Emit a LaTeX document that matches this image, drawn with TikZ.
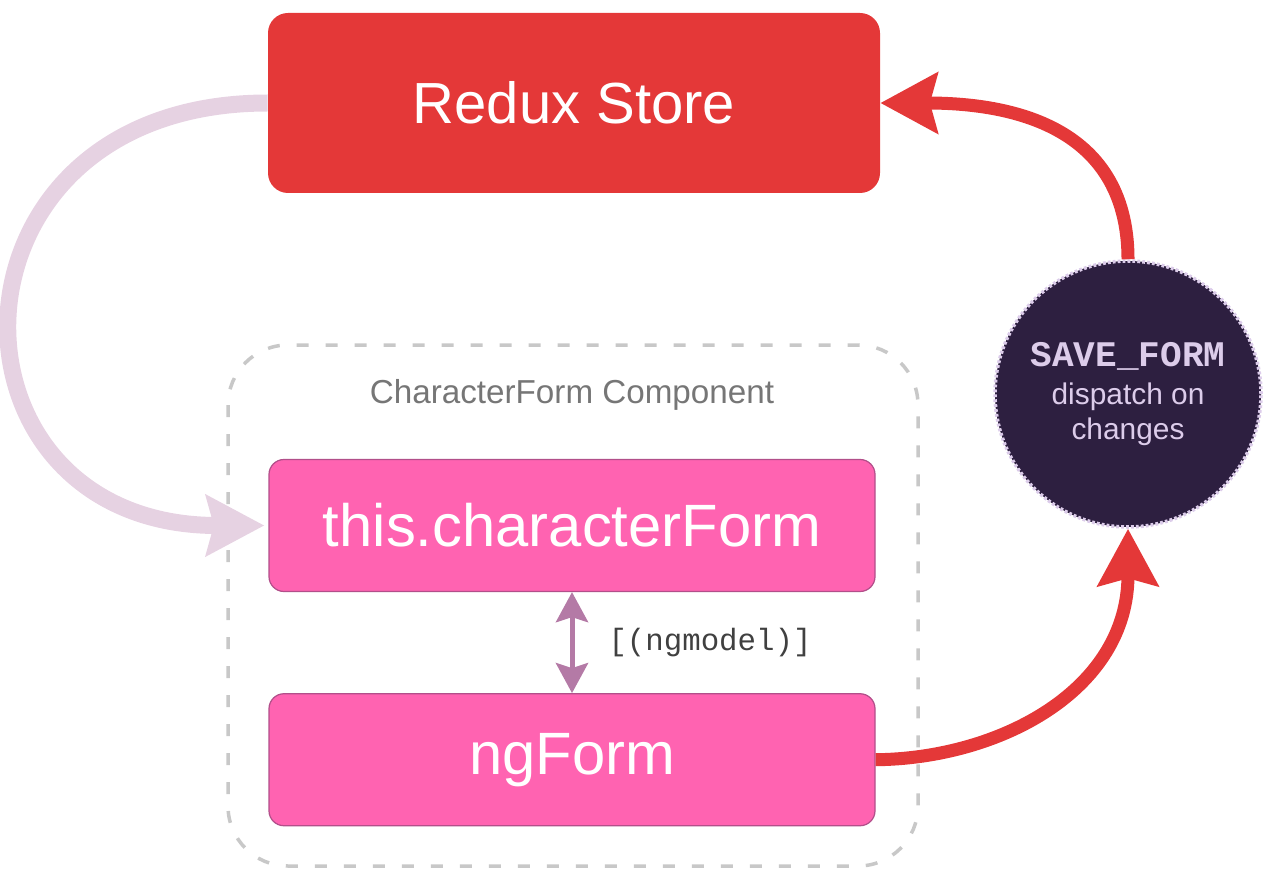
\documentclass[tikz,border=0pt]{standalone}
\usepackage{fontspec}
\setmainfont{Liberation Sans}
\setmonofont{Liberation Mono}
\usetikzlibrary{arrows.meta,positioning}

\definecolor{storered}{RGB}{228,56,56}
\definecolor{formpink}{RGB}{255,99,177}
\definecolor{formedge}{RGB}{178,79,138}
\definecolor{flowlilac}{RGB}{230,210,226}
\definecolor{bindmauve}{RGB}{180,122,166}
\definecolor{actionpurple}{RGB}{45,31,64}
\definecolor{actiontext}{RGB}{220,204,234}
\definecolor{framegray}{RGB}{200,200,200}
\definecolor{labelgray}{RGB}{118,118,118}

\tikzset{
  storebox/.style={fill=storered, rounded corners=0.4cm, minimum width=12.24cm,
    minimum height=3.6cm, text=white, font=\fontsize{33}{40}\selectfont},
  formbox/.style={fill=formpink, draw=formedge, line width=0.7pt, rounded corners=0.3cm,
    minimum width=12.12cm, minimum height=2.64cm, text=white, font=\fontsize{34}{40}\selectfont},
  actioncircle/.style={circle, fill=actionpurple, draw=actiontext, line width=2pt,
    dash pattern=on 1.6pt off 1.2pt, minimum size=5.32cm, text=actiontext, align=center,
    font=\fontsize{17}{20}\selectfont},
  compframe/.style={draw=framegray, line width=0.07cm, dash pattern=on 0.24cm off 0.34cm,
    rounded corners=1.2cm},
  lilacflow/.style={draw=flowlilac, line width=0.34cm,
    -{Stealth[length=1.16cm,width=1.2cm,inset=0.15cm]}},
  redflow/.style={draw=storered, line width=0.26cm,
    -{Stealth[length=1.14cm,width=1.2cm,inset=0.15cm]}},
  bindarrow/.style={draw=bindmauve, line width=0.1cm,
    {Stealth[length=0.6cm,width=0.64cm,inset=0.1cm]}-{Stealth[length=0.6cm,width=0.64cm,inset=0.1cm]}}
}

\begin{document}
\begin{tikzpicture}
\useasboundingbox (0,0) rectangle (25.26,-17.44);

% component frame
\draw[compframe] (4.56,-6.9) rectangle (18.36,-17.32);
\node (comp) at (11.44,-7.9) [text=labelgray, font=\fontsize{18.9}{22}\selectfont] {CharacterForm Component};

\node (store) at (11.48,-2.06) [storebox] {Redux Store};
\node (form) at (11.44,-10.51) [formbox] {this.characterForm};
\node (ngform) [formbox, below=2.02cm of form] {ngForm};

\node (action) at (22.56,-7.88) [actioncircle]
  {{\ttfamily\bfseries\fontsize{20.5}{20}\selectfont SAVE\_FORM}\\[2pt]dispatch on\\changes};

% flows
\draw[lilacflow] (store.west) .. controls (-1.4,-2.06) and (-1.4,-10.51) .. ([xshift=-0.08cm]form.west);
\draw[bindarrow] (form.south) -- (ngform.north);
\node (bind) at (14.2,-12.86) [text=black!75, font=\ttfamily\fontsize{17.5}{20}\selectfont] {[(ngmodel)]};
\draw[redflow] (ngform.east) .. controls (20.0,-15.17) and (22.56,-13.8) .. (action.south);
\draw[redflow] (action.north) .. controls (22.56,-2.4) and (20.0,-2.06) .. (store.east);
\end{tikzpicture}
\end{document}
